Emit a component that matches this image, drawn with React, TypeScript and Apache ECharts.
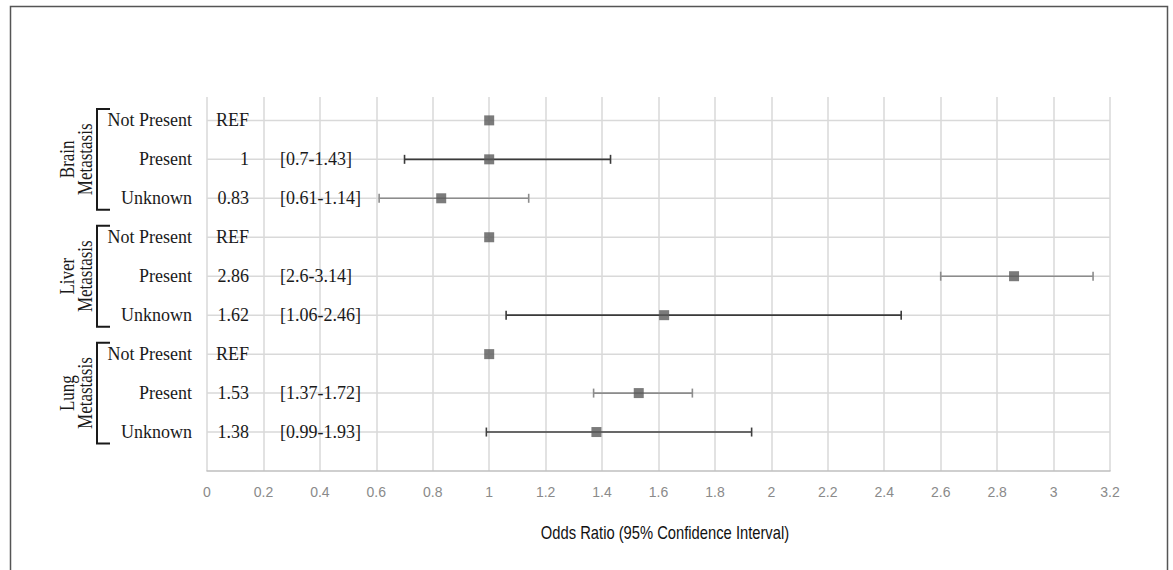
import React, { useEffect, useRef } from 'react';
import * as echarts from 'echarts';

// ---- data ----
const rowLabels = ['Not Present', 'Present', 'Unknown', 'Not Present', 'Present', 'Unknown', 'Not Present', 'Present', 'Unknown'];
const groupLabels = ['Brain\nMetastasis', 'Liver\nMetastasis', 'Lung\nMetastasis'];
const groupRows = [[0, 2], [3, 5], [6, 8]];
const oddsRatio = [1, 1, 0.83, 1, 2.86, 1.62, 1, 1.53, 1.38];
const ciLower: (number | null)[] = [null, 0.7, 0.61, null, 2.6, 1.06, null, 1.37, 0.99];
const ciUpper: (number | null)[] = [null, 1.43, 1.14, null, 3.14, 2.46, null, 1.72, 1.93];
const orText = ['REF', '1', '0.83', 'REF', '2.86', '1.62', 'REF', '1.53', '1.38'];
const ciText = ['', '[0.7-1.43]', '[0.61-1.14]', '', '[2.6-3.14]', '[1.06-2.46]', '', '[1.37-1.72]', '[0.99-1.93]'];
const xMin = 0;
const xMax = 3.2;
const xInterval = 0.2;
const axisTitle = 'Odds Ratio (95% Confidence Interval)';

// ---- styles ----
const barShade = ['', '#3a3a3a', '#8c8c8c', '', '#8c8c8c', '#3a3a3a', '', '#8c8c8c', '#3f3f3f'];
const serif = '"Liberation Serif", "Times New Roman", serif';
const sans = '"Liberation Sans", Arial, sans-serif';
const gridColor = '#d9d9d9';

const nRows = rowLabels.length;
const yOf = (i: number) => nRows - i;

export default function App() {
  const ref = useRef<HTMLDivElement>(null);
  useEffect(() => {
    if (!ref.current) return;
    const chart = echarts.init(ref.current, null, { renderer: 'svg' });

    const barData = rowLabels
      .map((_, i) => (ciLower[i] != null ? [yOf(i), ciLower[i], ciUpper[i], i] : null))
      .filter((d) => d != null);
    const markerData = oddsRatio.map((v, i) => [v, yOf(i)]);
    const textData = rowLabels.map((_, i) => [xMin, yOf(i), i]);
    const hLineData = rowLabels.map((_, i) => [xMin, yOf(i)]);
    const groupData = groupRows.map((g, k) => [xMin, yOf(g[0]), yOf(g[1]), k]);

    const option: any = {
      animation: false,
      backgroundColor: '#ffffff',
      grid: { left: 207, right: 63, top: 97, bottom: 99, containLabel: false },
      xAxis: {
        type: 'value',
        min: xMin,
        max: xMax,
        interval: xInterval,
        axisLine: { show: true, lineStyle: { color: '#bfbfbf', width: 1.5 } },
        axisTick: { show: false },
        axisLabel: {
          color: '#8a8a8a',
          fontFamily: sans,
          fontSize: 14,
          margin: 14,
          formatter: (v: number) => String(parseFloat(v.toFixed(1))),
        },
        splitLine: { show: true, lineStyle: { color: gridColor, width: 1.5 } },
      },
      yAxis: {
        type: 'value',
        min: 0,
        max: nRows + 0.6,
        interval: 1,
        axisLine: { show: false },
        axisTick: { show: false },
        splitLine: { show: false },
        axisLabel: {
          color: '#1a1a1a',
          fontFamily: serif,
          fontSize: 18,
          margin: 15,
          formatter: (v: number) => {
            if (Math.abs(v - Math.round(v)) > 1e-6) return '';
            const r = Math.round(v);
            if (r < 1 || r > nRows) return '';
            return rowLabels[nRows - r];
          },
        },
      },
      graphic: [
        {
          type: 'rect',
          shape: { x: 10.5, y: 6.5, width: 1157, height: 600 },
          style: { fill: 'none', stroke: '#555555', lineWidth: 1.5 },
          silent: true,
        },
        {
          type: 'text',
          x: 665,
          y: 532,
          scaleX: 0.82,
          style: {
            text: axisTitle,
            fill: '#111111',
            font: `18px ${sans}`,
            align: 'center',
            verticalAlign: 'middle',
          },
        },
      ],
      series: [
        {
          type: 'custom',
          z: 1,
          silent: true,
          data: hLineData,
          encode: { x: 0, y: 1 },
          renderItem: (params: any, api: any) => {
            const y = api.value(1);
            const a = api.coord([xMin, y]);
            const b = api.coord([xMax, y]);
            return {
              type: 'line',
              shape: { x1: a[0], y1: a[1], x2: b[0], y2: b[1] },
              style: { stroke: gridColor, lineWidth: 1.5 },
            };
          },
        },
        {
          type: 'custom',
          z: 3,
          silent: true,
          clip: false,
          data: textData,
          encode: { x: 0, y: 1 },
          renderItem: (params: any, api: any) => {
            const i = api.value(2);
            const p = api.coord([api.value(0), api.value(1)]);
            return {
              type: 'group',
              children: [
                {
                  type: 'text',
                  x: p[0] + 42,
                  y: p[1],
                  style: {
                    text: orText[i],
                    fill: '#1a1a1a',
                    font: `18px ${serif}`,
                    align: 'right',
                    verticalAlign: 'middle',
                  },
                },
                {
                  type: 'text',
                  x: p[0] + 73,
                  y: p[1],
                  style: {
                    text: ciText[i],
                    fill: '#1a1a1a',
                    font: `18px ${serif}`,
                    align: 'left',
                    verticalAlign: 'middle',
                  },
                },
              ],
            };
          },
        },
        {
          type: 'custom',
          z: 4,
          silent: true,
          data: barData,
          encode: { x: [1, 2], y: 0 },
          renderItem: (params: any, api: any) => {
            const y = api.value(0);
            const a = api.coord([api.value(1), y]);
            const b = api.coord([api.value(2), y]);
            const color = barShade[api.value(3)];
            const st = { stroke: color, lineWidth: 1.6 };
            return {
              type: 'group',
              children: [
                { type: 'line', shape: { x1: a[0], y1: a[1], x2: b[0], y2: b[1] }, style: st },
                { type: 'line', shape: { x1: a[0], y1: a[1] - 4.5, x2: a[0], y2: a[1] + 4.5 }, style: st },
                { type: 'line', shape: { x1: b[0], y1: b[1] - 4.5, x2: b[0], y2: b[1] + 4.5 }, style: st },
              ],
            };
          },
        },
        {
          type: 'scatter',
          z: 5,
          silent: true,
          symbol: 'rect',
          symbolSize: 10,
          itemStyle: { color: '#5a5a5a' },
          data: markerData,
        },
        {
          type: 'custom',
          z: 5,
          silent: true,
          clip: false,
          data: groupData,
          encode: { x: 0, y: [1, 2] },
          renderItem: (params: any, api: any) => {
            const top = api.coord([api.value(0), api.value(1)]);
            const bot = api.coord([api.value(0), api.value(2)]);
            const k = api.value(3);
            const bx = top[0] - 110;
            const t = top[1] - 11.5;
            const b = bot[1] + 11.5;
            return {
              type: 'group',
              children: [
                {
                  type: 'polyline',
                  shape: { points: [[bx + 13, t], [bx, t], [bx, b], [bx + 13, b]] },
                  style: { stroke: '#1a1a1a', lineWidth: 2, fill: 'none' },
                },
                {
                  type: 'text',
                  x: bx - 21,
                  y: (t + b) / 2,
                  rotation: Math.PI / 2,
                  scaleY: 1.28,
                  style: {
                    text: groupLabels[k],
                    fill: '#1a1a1a',
                    font: `17px ${serif}`,
                    lineHeight: 14,
                    align: 'center',
                    verticalAlign: 'middle',
                  },
                },
              ],
            };
          },
        },
      ],
    };
    chart.setOption(option);
    return () => chart.dispose();
  }, []);
  return (
    <div
      ref={ref}
      style={{ position: 'fixed', left: 0, top: 0, width: 1173, height: 570, background: '#fff' }}
    />
  );
}
